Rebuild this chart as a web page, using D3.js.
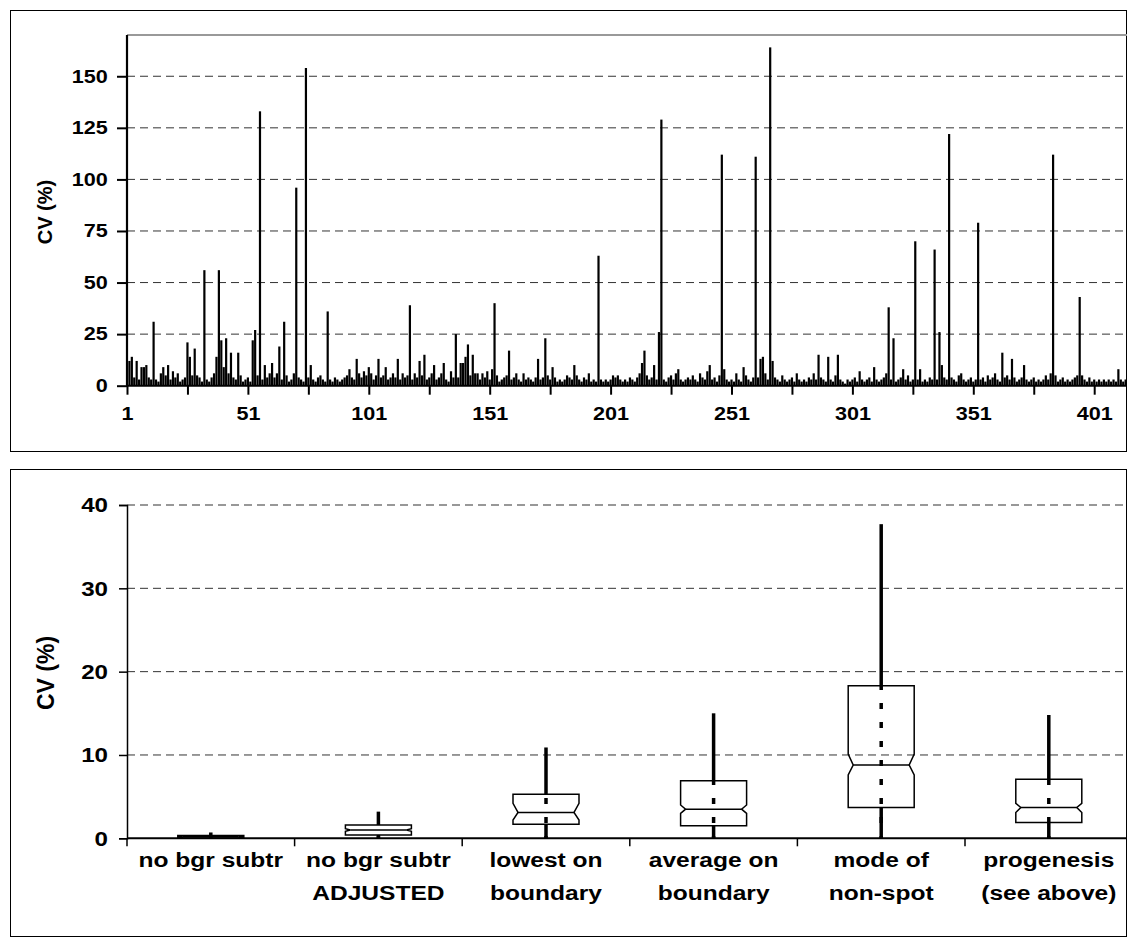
<!DOCTYPE html>
<html>
<head>
<meta charset="utf-8">
<script src="https://d3js.org/d3.v7.min.js"></script>
<style>
  body { margin: 0; background: #fff; }
  text { font-family: "Liberation Sans", Arial, sans-serif; font-weight: bold; fill: #000; }
</style>
</head>
<body>
<svg id="chart" width="1128" height="938"></svg>
<script>
// ---- top chart: CV (%) per spot ----
var spotCV = [
  172,12,14,4,12,3,9,9,10,4,
  3,31,3,2,6,9,5,10,3,7,
  4,6,2,3,4,21,14,5,18,5,
  4,2,56,3,2,4,6,14,56,22,
  9,23,6,16,4,3,16,5,2,3,
  4,2,22,27,5,133,3,10,4,6,
  11,4,6,19,3,31,5,2,3,6,
  96,4,3,2,154,4,10,3,2,4,
  5,3,2,36,3,2,4,3,2,3,
  4,5,8,4,3,13,6,4,7,5,
  9,6,3,5,13,4,5,9,3,4,
  6,4,13,3,6,4,5,39,3,6,
  4,12,5,15,3,4,6,10,3,4,
  6,11,3,2,7,4,25,4,11,11,
  14,20,5,15,6,6,3,6,4,7,
  3,8,40,5,2,3,4,5,17,3,
  4,6,3,2,6,3,4,3,2,4,
  13,3,4,23,5,3,9,4,2,3,
  2,3,5,4,3,10,5,3,2,4,
  3,6,2,3,2,63,3,2,3,2,
  3,5,4,5,3,2,3,2,4,3,
  2,4,6,11,17,5,3,4,10,3,
  26,129,3,2,4,5,3,6,8,3,
  2,3,4,3,5,3,2,6,4,3,
  7,10,3,4,2,5,112,8,3,2,
  3,2,6,3,2,9,5,3,2,4,
  111,4,13,14,6,3,164,12,4,3,
  2,5,3,2,3,4,2,6,3,2,
  3,2,4,3,6,3,15,4,3,2,
  14,3,2,5,15,3,2,1,3,2,
  3,4,2,7,3,2,3,4,2,9,
  3,2,3,4,6,38,3,23,2,3,
  4,8,3,5,2,3,70,3,8,2,
  3,2,4,3,66,3,26,10,4,3,
  122,4,3,2,5,6,3,2,3,4,
  2,3,79,3,4,2,5,3,4,6,
  3,2,16,4,5,3,13,4,2,3,
  4,10,3,2,3,4,2,3,2,3,
  5,3,6,112,5,2,3,4,2,3,
  2,3,4,5,43,5,3,2,4,2,
  3,2,3,2,3,2,3,2,3,2,
  8,3,2,3
];
var spotIndex = d3.range(1, spotCV.length + 1);
var topYTicks = [0, 25, 50, 75, 100, 125, 150];
var topXTicks = d3.range(1, 414, 25);

// ---- bottom chart: notched box plots ----
var methods = [
  ["no bgr subtr", ""],
  ["no bgr subtr", "ADJUSTED"],
  ["lowest on", "boundary"],
  ["average on", "boundary"],
  ["mode of", "non-spot"],
  ["progenesis", "(see above)"]
];
var boxMin   = [0, 0, 0, 0, 0, 0];
var boxQ1    = [0.05, 0.4, 1.7, 1.5, 3.7, 1.9];
var boxMed   = [0.2, 1.0, 3.1, 3.5, 8.8, 3.7];
var boxQ3    = [0.35, 1.6, 5.3, 6.9, 18.3, 7.1];
var boxMax   = [0.7, 3.2, 10.9, 15.0, 37.7, 14.8];
var notchLo  = [0.15, 0.85, 2.2, 3.0, 7.6, 3.1];
var notchHi  = [0.25, 1.15, 4.2, 4.0, 10.1, 4.2];
var bottomYTicks = [0, 10, 20, 30, 40];

var svg = d3.select("#chart");

// panel frames
svg.append("rect").attr("x", 10.5).attr("y", 10.5).attr("width", 1116).attr("height", 441)
  .attr("fill", "none").attr("stroke", "#000").attr("stroke-width", 1);
svg.append("rect").attr("x", 10.5).attr("y", 469.5).attr("width", 1116).attr("height", 467)
  .attr("fill", "none").attr("stroke", "#000").attr("stroke-width", 1);

// ===== top chart =====
var tLeft = 127, tRight = 1127, tTop = 35, tBottom = 385.7;
var yTop = d3.scaleLinear().domain([0, 170]).range([tBottom, tTop]);
var xTop = d3.scalePoint().domain(spotIndex).range([tLeft, tLeft + 413 * 2.418]);

var gTop = svg.append("g");

gTop.selectAll("line.grid").data(topYTicks.slice(1)).enter().append("line")
  .attr("x1", tLeft).attr("x2", tRight)
  .attr("y1", d => yTop(d)).attr("y2", d => yTop(d))
  .attr("stroke", "#333").attr("stroke-width", 1).attr("stroke-dasharray", "8,5");

gTop.append("line").attr("x1", tLeft).attr("x2", tRight).attr("y1", tTop).attr("y2", tTop)
  .attr("stroke", "#999").attr("stroke-width", 2);

svg.append("clipPath").attr("id", "topclip").append("rect")
  .attr("x", 100).attr("y", tTop).attr("width", 1028).attr("height", tBottom - tTop);

var barW = 2.2;
gTop.append("g").attr("clip-path", "url(#topclip)")
  .selectAll("rect").data(spotCV).enter().append("rect")
  .attr("x", (d, i) => xTop(spotIndex[i]) - barW / 2)
  .attr("y", d => yTop(d))
  .attr("width", barW)
  .attr("height", d => tBottom - yTop(d))
  .attr("fill", "#000");

var yAxisTop = gTop.append("g").attr("transform", "translate(" + tLeft + ",0)")
  .call(d3.axisLeft(yTop).tickValues(topYTicks).tickSize(10).tickPadding(8));
yAxisTop.select(".domain").remove();
yAxisTop.selectAll(".tick line").attr("stroke-width", 2);
yAxisTop.selectAll(".tick text").attr("font-size", 18).attr("x", -16)
  .attr("transform", "scale(1.2,1)");
gTop.append("line").attr("x1", tLeft).attr("x2", tLeft).attr("y1", tTop).attr("y2", tBottom)
  .attr("stroke", "#000").attr("stroke-width", 2);

var xAxisTop = gTop.append("g").attr("transform", "translate(0," + tBottom + ")")
  .call(d3.axisBottom(xTop).tickValues(topXTicks).tickSize(9).tickPadding(13)
    .tickFormat(d => ((d - 1) % 50 === 0 ? d : "")));
xAxisTop.select(".domain").remove();
xAxisTop.selectAll(".tick line").attr("stroke-width", 2);
xAxisTop.selectAll(".tick text").attr("font-size", 18).attr("transform", "scale(1.2,1)");
gTop.append("line").attr("x1", tLeft).attr("x2", tRight).attr("y1", tBottom).attr("y2", tBottom)
  .attr("stroke", "#000").attr("stroke-width", 2);

svg.append("text").attr("transform", "translate(52,212) rotate(-90)")
  .attr("text-anchor", "middle").attr("font-size", 20).text("CV (%)");

// ===== bottom chart =====
var bLeft = 127, bTop = 505, bBottom = 838.3, bandW = 167.6;
var yBot = d3.scaleLinear().domain([0, 40]).range([bBottom, bTop]);
var xBot = d3.scaleBand().domain(d3.range(methods.length))
  .range([bLeft, bLeft + bandW * methods.length]);

var gBot = svg.append("g");

gBot.selectAll("line.grid").data(bottomYTicks.slice(1)).enter().append("line")
  .attr("x1", bLeft).attr("x2", 1127)
  .attr("y1", d => yBot(d)).attr("y2", d => yBot(d))
  .attr("stroke", d => (d === 40 ? "#777" : "#333")).attr("stroke-width", d => (d === 40 ? 1.5 : 1))
  .attr("stroke-dasharray", "8,5");

var yAxisBot = gBot.append("g").attr("transform", "translate(" + bLeft + ",0)")
  .call(d3.axisLeft(yBot).tickValues(bottomYTicks).tickSize(8).tickPadding(10));
yAxisBot.select(".domain").attr("stroke-width", 1.5);
yAxisBot.selectAll(".tick line").attr("stroke-width", 1.5);
yAxisBot.selectAll(".tick text").attr("font-size", 21).attr("x", -16.5)
  .attr("transform", "scale(1.15,1)");

svg.append("text").attr("transform", "translate(54,673) rotate(-90)")
  .attr("text-anchor", "middle").attr("font-size", 23).text("CV (%)");

// x axis line and category boundary ticks
gBot.append("line").attr("x1", bLeft).attr("x2", 1127).attr("y1", bBottom).attr("y2", bBottom)
  .attr("stroke", "#000").attr("stroke-width", 2);
gBot.selectAll("line.cat").data(d3.range(methods.length + 1)).enter().append("line")
  .attr("x1", d => xBot.range()[0] + d * xBot.step()).attr("x2", d => xBot.range()[0] + d * xBot.step())
  .attr("y1", bBottom).attr("y2", bBottom + 8)
  .attr("stroke", "#000").attr("stroke-width", 1.5);

var boxW = 66;
var notchD = 5;
methods.forEach(function (m, i) {
  var cx = xBot(i) + xBot.bandwidth() / 2;
  var x0 = cx - boxW / 2, x1 = cx + boxW / 2;
  var yq1 = yBot(boxQ1[i]), yq3 = yBot(boxQ3[i]), ym = yBot(boxMed[i]);
  var ynh = yBot(notchHi[i]), ynl = yBot(notchLo[i]);
  var g = gBot.append("g");

  // dashed line through the box
  g.append("line").attr("x1", cx).attr("x2", cx).attr("y1", yBot(boxMin[i])).attr("y2", yq3)
    .attr("stroke", "#000").attr("stroke-width", 3.5)
    .attr("stroke-dasharray", "6,13").attr("stroke-dashoffset", 3.7);

  var p = "M" + x0 + "," + yq3 + "L" + x1 + "," + yq3 + "L" + x1 + "," + ynh +
    "L" + (x1 - notchD) + "," + ym + "L" + x1 + "," + ynl + "L" + x1 + "," + yq1 +
    "L" + x0 + "," + yq1 + "L" + x0 + "," + ynl + "L" + (x0 + notchD) + "," + ym +
    "L" + x0 + "," + ynh + "Z";
  g.append("path").attr("d", p).attr("fill", "none").attr("stroke", "#000").attr("stroke-width", 1.5);
  g.append("line").attr("x1", x0 + notchD).attr("x2", x1 - notchD).attr("y1", ym).attr("y2", ym)
    .attr("stroke", "#000").attr("stroke-width", 1.5);

  // whiskers
  g.append("line").attr("x1", cx).attr("x2", cx).attr("y1", yq3).attr("y2", yBot(boxMax[i]))
    .attr("stroke", "#000").attr("stroke-width", 3.5);
  g.append("line").attr("x1", cx).attr("x2", cx).attr("y1", yBot(boxMin[i])).attr("y2", yq1)
    .attr("stroke", "#000").attr("stroke-width", 3.5);

  var t = gBot.append("text").attr("text-anchor", "middle").attr("font-size", 21)
    .attr("transform", "translate(" + cx + ",0) scale(1.17,1)");
  t.append("tspan").attr("x", 0).attr("y", 867).text(m[0]);
  t.append("tspan").attr("x", 0).attr("y", 900).text(m[1]);
});
</script>
</body>
</html>
